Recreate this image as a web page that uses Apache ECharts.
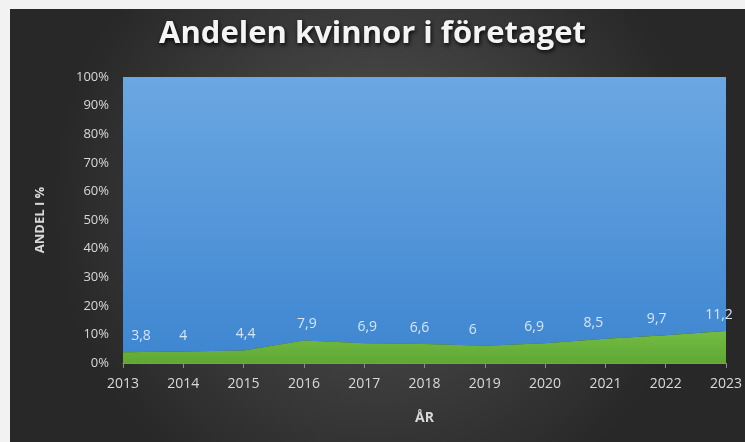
<!DOCTYPE html>
<html>
<head>
<meta charset="utf-8">
<script src="https://cdn.jsdelivr.net/npm/echarts@6/dist/echarts.min.js"></script>
<style>
  html, body { margin: 0; padding: 0; background: #f2f2f2; }
  #main { width: 745px; height: 442px; }
</style>
</head>
<body>
<div id="main"></div>
<script>
// år och andelar (procent)
var years = ['2013', '2014', '2015', '2016', '2017', '2018', '2019', '2020', '2021', '2022', '2023'];
var kvinnor = [3.8, 4, 4.4, 7.9, 6.9, 6.6, 6, 6.9, 8.5, 9.7, 11.2];
var man = [96.2, 96, 95.6, 92.1, 93.1, 93.4, 94, 93.1, 91.5, 90.3, 88.8];

var chart = echarts.init(document.getElementById('main'));

var labelFont = "'Liberation Sans Narrow', 'Open Sans', sans-serif";

// etiketternas sidoförskjutning, som i originalet
var labelShift = [18, 0, 2, 3, 3, -5, -12, -11, -12, -9, -7];

var womenData = kvinnor.map(function (v, i) {
  return { value: v, label: { offset: [labelShift[i], 0] } };
});

chart.setOption({
  backgroundColor: '#f2f2f2',
  graphic: [{
    type: 'rect',
    z: -10,
    shape: { x: 10, y: 9, width: 735, height: 433 },
    style: {
      fill: new echarts.graphic.RadialGradient(0.5, 0.45, 0.75, [
        { offset: 0, color: '#545454' },
        { offset: 1, color: '#282828' }
      ])
    }
  }],
  title: {
    text: 'Andelen kvinnor i företaget',
    left: 'center',
    top: 14,
    textStyle: {
      color: '#f4f4f4',
      fontSize: 31,
      fontWeight: 'bold',
      fontFamily: "'Open Sans', sans-serif",
      textShadowColor: 'rgba(0,0,0,0.9)',
      textShadowBlur: 4,
      textShadowOffsetX: 1,
      textShadowOffsetY: 2
    }
  },
  grid: { left: 123, right: 19, top: 77, bottom: 79 },
  xAxis: {
    type: 'category',
    data: years,
    boundaryGap: false,
    name: 'ÅR',
    nameLocation: 'middle',
    nameGap: 48,
    nameTextStyle: { color: '#d9d9d9', fontSize: 14, fontWeight: 'bold', fontFamily: labelFont },
    axisLine: { lineStyle: { color: '#8c8c8c', width: 1 } },
    axisTick: { show: true, alignWithLabel: true, length: 5, lineStyle: { color: '#8c8c8c' } },
    axisLabel: { color: '#d9d9d9', fontSize: 14, margin: 14, fontFamily: labelFont },
    splitLine: { show: false }
  },
  yAxis: {
    type: 'value',
    min: 0,
    max: 100,
    interval: 10,
    name: 'ANDEL I %',
    nameLocation: 'middle',
    nameGap: 76,
    nameTextStyle: { color: '#d9d9d9', fontSize: 13, fontWeight: 'bold', fontFamily: labelFont },
    axisLine: { show: false },
    axisTick: { show: false },
    axisLabel: { color: '#d9d9d9', fontSize: 13, margin: 14, formatter: '{value}%', fontFamily: labelFont },
    splitLine: { show: false }
  },
  series: [{
    name: 'Kvinnor',
    type: 'line',
    stack: 'total',
    data: womenData,
    symbol: 'circle',
    symbolSize: 0,
    showSymbol: true,
    lineStyle: { width: 0 },
    areaStyle: {
      opacity: 1,
      color: new echarts.graphic.LinearGradient(0, 0, 0, 1, [
        { offset: 0, color: '#74bc42' },
        { offset: 1, color: '#5fa835' }
      ])
    },
    label: {
      show: true,
      position: 'top',
      distance: 9,
      color: '#d6e6f7',
      fontSize: 14,
      fontFamily: labelFont,
      formatter: function (p) { return String(p.value).replace('.', ','); }
    },
    z: 3
  }, {
    name: 'Män',
    type: 'line',
    stack: 'total',
    data: man,
    symbol: 'none',
    lineStyle: { width: 0 },
    areaStyle: {
      opacity: 1,
      color: new echarts.graphic.LinearGradient(0, 0, 0, 1, [
        { offset: 0, color: '#6ba7e2' },
        { offset: 1, color: '#3f87d1' }
      ])
    },
    z: 2
  }]
});
</script>
</body>
</html>
